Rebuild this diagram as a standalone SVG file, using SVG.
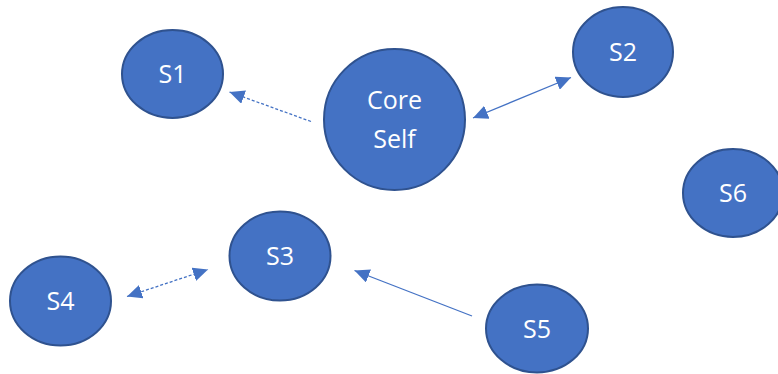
<svg xmlns="http://www.w3.org/2000/svg" width="778" height="374" viewBox="0 0 778 374">
<style>
.node ellipse{fill:#4472C4;stroke:#2F528F;stroke-width:2}
.node text{fill:#fff;font-family:"Open Sans","Liberation Sans",sans-serif;font-size:25px;text-anchor:middle}
.edge{stroke:#4472C4;stroke-width:1.3;fill:none}
.dash{stroke-dasharray:3 2}
</style>
<defs>
<marker id="ah" markerUnits="userSpaceOnUse" markerWidth="16" markerHeight="14" refX="15" refY="7" orient="auto-start-reverse" viewBox="0 0 16 14">
<path d="M0,0 L15,7 L0,14 Z" fill="#4472C4"/>
</marker>
</defs>
<rect width="778" height="374" fill="#fff"/>
<g id="connectors">
<line class="edge dash" x1="311" y1="121.5" x2="229.5" y2="92" marker-end="url(#ah)"/>
<line class="edge" x1="473" y1="118" x2="571" y2="77.5" marker-start="url(#ah)" marker-end="url(#ah)"/>
<line class="edge dash" x1="127" y1="296.5" x2="208" y2="269.5" marker-start="url(#ah)" marker-end="url(#ah)"/>
<line class="edge" x1="472" y1="316" x2="354.5" y2="270.5" marker-end="url(#ah)"/>
</g>
<g id="core" class="node"><ellipse cx="394.5" cy="119.5" rx="70.5" ry="70.5"/><text x="394.5" y="109">Core</text><text x="394.5" y="147.5">Self</text></g>
<g id="s1" class="node"><ellipse cx="172.5" cy="74" rx="50.5" ry="44"/><text x="172.5" y="83">S1</text></g>
<g id="s2" class="node"><ellipse cx="623" cy="52" rx="50" ry="45"/><text x="623" y="61">S2</text></g>
<g id="s3" class="node"><ellipse cx="280" cy="256" rx="50.5" ry="44.5"/><text x="280" y="265">S3</text></g>
<g id="s4" class="node"><ellipse cx="60.5" cy="301" rx="50.5" ry="44.5"/><text x="60.5" y="310">S4</text></g>
<g id="s5" class="node"><ellipse cx="537" cy="328.5" rx="51" ry="44"/><text x="537" y="337.5">S5</text></g>
<g id="s6" class="node"><ellipse cx="733" cy="193" rx="50" ry="44"/><text x="733" y="202">S6</text></g>
</svg>
